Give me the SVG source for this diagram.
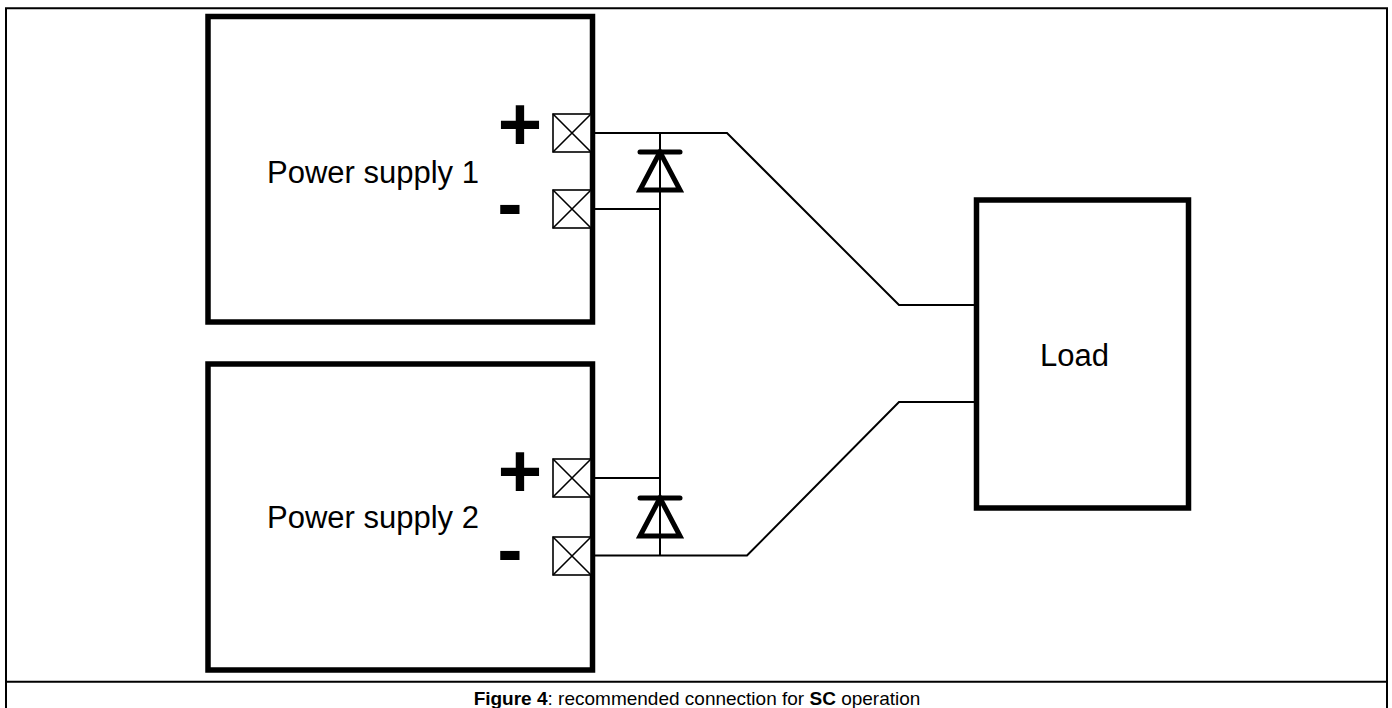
<svg xmlns="http://www.w3.org/2000/svg" width="1392" height="708" viewBox="0 0 1392 708">
<style>
.frame{fill:none;stroke:#000;stroke-width:2}
.box{fill:#fff;stroke:#000;stroke-width:5.5;stroke-linejoin:miter}
.term{fill:#fff;stroke:#000;stroke-width:1.6}
.wire{fill:none;stroke:#000;stroke-width:2}
.diode{fill:none;stroke:#000;stroke-width:5;stroke-linejoin:miter}
.bar{stroke:#000;stroke-width:5;stroke-linecap:round}
.lbl{font-family:"Liberation Sans",Arial,sans-serif;font-size:31px;fill:#000}
.sign{font-family:"Liberation Sans",Arial,sans-serif;font-weight:bold;font-size:76px;fill:#000;text-anchor:middle}
.cap{font-family:"Liberation Sans",Arial,sans-serif;font-size:19px;fill:#000;text-anchor:middle}
</style>
<defs>
<g id="terminal">
<rect class="term" x="0" y="0" width="38" height="38"/>
<path class="term" d="M0 0L38 38M38 0L0 38"/>
</g>
</defs>
<rect x="0" y="0" width="1392" height="708" fill="#fff"/>
<g id="frame">
<path class="frame" d="M6 720V8.3H1387V720M6 681.7H1387"/>
</g>
<g id="connectors">
<path class="wire" d="M592 133H727L899 305H976"/>
<path class="wire" d="M592 555.5H747L899 402H976"/>
<path class="wire" d="M660 133V555.5"/>
<path class="wire" d="M592 209H660"/>
<path class="wire" d="M592 478H660"/>
</g>
<g id="ps1">
<rect class="box" x="208" y="16.5" width="384.5" height="305.5"/>
<text class="lbl" x="267" y="183">Power supply 1</text>
<use href="#terminal" x="553" y="114"/>
<use href="#terminal" x="553" y="190"/>
<text class="sign" x="520" y="150">+</text>
<text class="sign" x="510" y="229">-</text>
</g>
<g id="ps2">
<rect class="box" x="208" y="364" width="384.5" height="306"/>
<text class="lbl" x="267" y="528">Power supply 2</text>
<use href="#terminal" x="553" y="459"/>
<use href="#terminal" x="553" y="537"/>
<text class="sign" x="520" y="497">+</text>
<text class="sign" x="510" y="575">-</text>
</g>
<g id="d1">
<path class="diode" d="M660 152L640 190H680Z"/>
<line class="bar" x1="640" y1="152" x2="680" y2="152"/>
</g>
<g id="d2">
<path class="diode" d="M660 498L640 536H680Z"/>
<line class="bar" x1="640" y1="498" x2="680" y2="498"/>
</g>
<g id="load">
<rect class="box" x="976.5" y="200" width="212" height="308"/>
<text class="lbl" x="1040" y="366">Load</text>
</g>
<g id="caption">
<text class="cap" x="697" y="705"><tspan font-weight="bold">Figure 4</tspan>: recommended connection for <tspan font-weight="bold">SC</tspan> operation</text>
</g>
</svg>
